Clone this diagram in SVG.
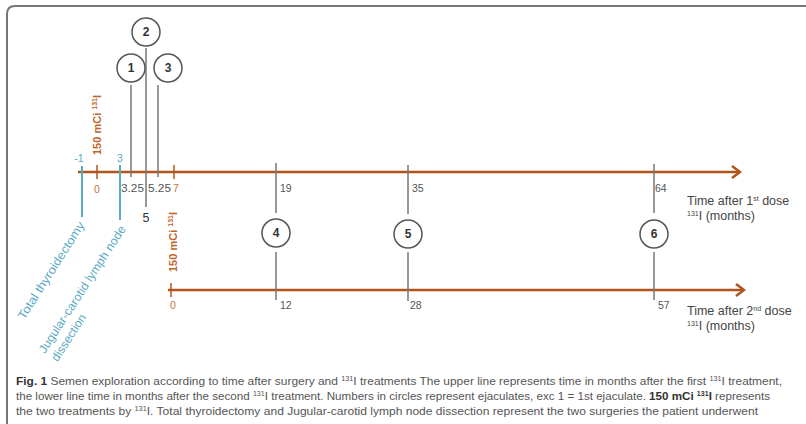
<svg xmlns="http://www.w3.org/2000/svg" width="806" height="424" viewBox="0 0 806 424">
<style>
.ax{stroke:#b0541c;stroke-width:2.5;fill:none}
.tk{stroke:#b0541c;stroke-width:1.5}
.bl{stroke:#5aaac4;stroke-width:2}
.gr{stroke:#777;stroke-width:1.5}
.cir{fill:#fff;stroke:#555;stroke-width:1.5}
.cn{font-family:"Liberation Sans",Arial,sans-serif;font-size:12px;font-weight:bold;fill:#333;text-anchor:middle}
.five{font-family:"Liberation Sans",Arial,sans-serif;font-size:12.5px;fill:#333;text-anchor:middle}
.num{font-family:"Liberation Sans",Arial,sans-serif;font-size:10.5px;fill:#555}
.on{font-family:"Liberation Sans",Arial,sans-serif;font-size:10.5px;fill:#c8733a}
.bn{font-family:"Liberation Sans",Arial,sans-serif;font-size:10.5px;fill:#5aaac4}
.dose{font-family:"Liberation Sans",Arial,sans-serif;font-size:11px;font-weight:bold;fill:#c0642a}
.blt{font-family:"Liberation Sans",Arial,sans-serif;font-size:12px;fill:#5aaac4}
.lab{font-family:"Liberation Sans",Arial,sans-serif;font-size:12.5px;fill:#444}
.cap{font-family:"Liberation Sans",Arial,sans-serif;font-size:11.5px;fill:#555}
.sup{font-size:7px}
</style>
<defs>
<marker id="ah" markerWidth="12" markerHeight="14" refX="10" refY="7" orient="auto" markerUnits="userSpaceOnUse">
<path d="M2,1 L10,7 L2,13" fill="none" stroke="#b0541c" stroke-width="2.5"/>
</marker>
</defs>
<path d="M7,424 V14 Q7,6 15,6 H806" fill="none" stroke="#777" stroke-width="2"/>
<g id="connectors">
<line class="ax" x1="78" y1="172" x2="740" y2="172" marker-end="url(#ah)"/>
<line class="ax" x1="168" y1="290" x2="744" y2="290" marker-end="url(#ah)"/>
<line class="tk" x1="97" y1="165" x2="97" y2="179"/>
<line class="tk" x1="174" y1="165" x2="174" y2="179"/>
<line class="tk" x1="171" y1="283" x2="171" y2="297"/>
<line class="bl" x1="82" y1="166" x2="82" y2="217"/>
<line class="bl" x1="120" y1="165" x2="120" y2="220"/>
<line class="gr" x1="131" y1="85" x2="131" y2="177"/>
<line class="gr" x1="146" y1="48" x2="146" y2="207"/>
<line class="gr" x1="158" y1="85" x2="158" y2="177"/>
<line class="gr" x1="276" y1="163" x2="276" y2="213"/>
<line class="gr" x1="276" y1="252" x2="276" y2="300"/>
<line class="gr" x1="408" y1="165" x2="408" y2="214"/>
<line class="gr" x1="408" y1="252" x2="408" y2="301"/>
<line class="gr" x1="654" y1="164" x2="654" y2="213"/>
<line class="gr" x1="654" y1="252" x2="654" y2="300"/>
</g>
<g id="n1"><circle class="cir" cx="131" cy="68" r="14"/><text class="cn" x="131" y="72">1</text></g>
<g id="n2"><circle class="cir" cx="146" cy="32" r="14"/><text class="cn" x="146" y="36">2</text></g>
<g id="n3"><circle class="cir" cx="168" cy="68" r="14"/><text class="cn" x="168" y="72">3</text></g>
<g id="n4"><circle class="cir" cx="276" cy="233" r="14"/><text class="cn" x="276" y="237">4</text></g>
<g id="n5"><circle class="cir" cx="408" cy="234" r="14"/><text class="cn" x="408" y="238">5</text></g>
<g id="n6"><circle class="cir" cx="654" cy="234" r="14"/><text class="cn" x="654" y="238">6</text></g>
<g id="ticklabels">
<text class="bn" x="79" y="162" text-anchor="middle">-1</text>
<text class="bn" x="120" y="162" text-anchor="middle">3</text>
<text class="on" x="97" y="193" text-anchor="middle">0</text>
<text class="num" x="121" y="192" textLength="23" lengthAdjust="spacingAndGlyphs">3.25</text>
<text class="num" x="148" y="192" textLength="23" lengthAdjust="spacingAndGlyphs">5.25</text>
<text class="on" x="173" y="192">7</text>
<text class="five" x="146" y="222">5</text>
<text class="num" x="280" y="192">19</text>
<text class="num" x="412" y="192">35</text>
<text class="num" x="655" y="192">64</text>
<text class="on" x="173" y="309" text-anchor="middle">0</text>
<text class="num" x="280" y="309">12</text>
<text class="num" x="410" y="309">28</text>
<text class="num" x="658" y="309">57</text>
</g>
<g id="dose1"><text class="dose" transform="translate(101,155) rotate(-90)">150 mCi <tspan class="sup" dy="-4">131</tspan><tspan dy="4">I</tspan></text></g>
<g id="dose2"><text class="dose" transform="translate(177,272) rotate(-90)">150 mCi <tspan class="sup" dy="-4">131</tspan><tspan dy="4">I</tspan></text></g>
<g id="surgery1"><text class="blt" transform="translate(85,225) rotate(-57.5)" text-anchor="end" textLength="113" lengthAdjust="spacingAndGlyphs">Total thyroidectomy</text></g>
<g id="surgery2"><text class="blt" transform="translate(45,354) rotate(-57)"><tspan textLength="149" lengthAdjust="spacingAndGlyphs">Jugular-carotid lymph node</tspan><tspan x="0" dy="15">dissection</tspan></text></g>
<g id="axis1label"><text class="lab" x="687" y="205">Time after 1<tspan class="sup" dy="-4">st</tspan><tspan dy="4"> dose</tspan></text>
<text class="lab" x="687" y="220"><tspan class="sup" dy="-4">131</tspan><tspan dy="4">I (months)</tspan></text></g>
<g id="axis2label"><text class="lab" x="687" y="315">Time after 2<tspan class="sup" dy="-4">nd</tspan><tspan dy="4"> dose</tspan></text>
<text class="lab" x="687" y="330"><tspan class="sup" dy="-4">131</tspan><tspan dy="4">I (months)</tspan></text></g>
<g id="caption">
<text class="cap" x="16" y="385" textLength="766" lengthAdjust="spacingAndGlyphs"><tspan font-weight="bold" fill="#333">Fig. 1</tspan> Semen exploration according to time after surgery and <tspan class="sup" dy="-4">131</tspan><tspan dy="4">I treatments The upper line represents time in months after the first </tspan><tspan class="sup" dy="-4">131</tspan><tspan dy="4">I treatment,</tspan></text>
<text class="cap" x="16" y="400" textLength="754" lengthAdjust="spacingAndGlyphs">the lower line time in months after the second <tspan class="sup" dy="-4">131</tspan><tspan dy="4">I treatment. Numbers in circles represent ejaculates, exc 1 = 1st ejaculate. </tspan><tspan font-weight="bold" fill="#333">150 mCi </tspan><tspan class="sup" font-weight="bold" fill="#333" dy="-4">131</tspan><tspan font-weight="bold" fill="#333" dy="4">I</tspan> represents</text>
<text class="cap" x="16" y="415" textLength="742" lengthAdjust="spacingAndGlyphs">the two treatments by <tspan class="sup" dy="-4">131</tspan><tspan dy="4">I. Total thyroidectomy and Jugular-carotid lymph node dissection represent the two surgeries the patient underwent</tspan></text>
</g>
</svg>
